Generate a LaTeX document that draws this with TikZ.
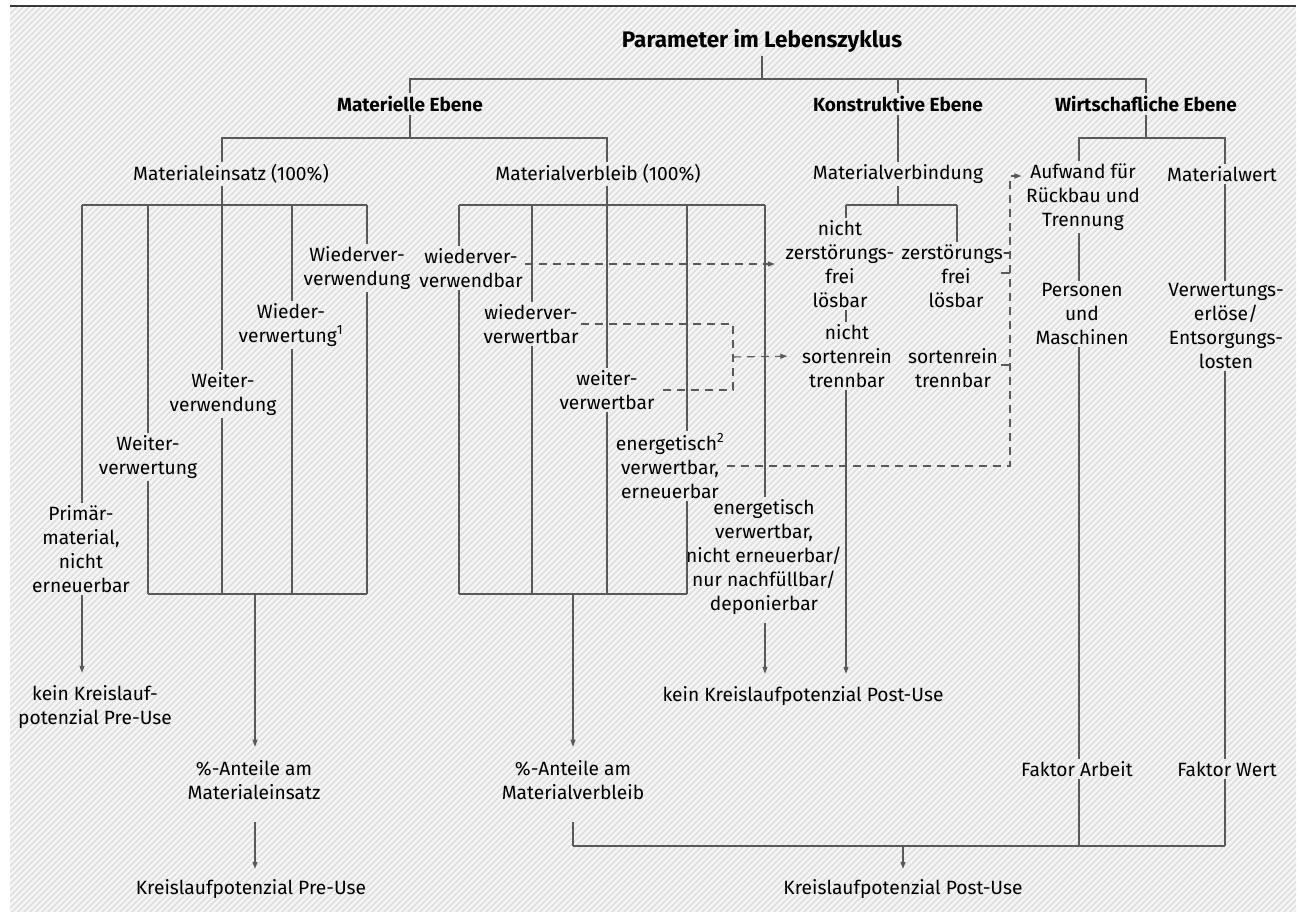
\documentclass[tikz,border=0pt]{standalone}
\usepackage{fontspec}
\setmainfont{Fira Sans}
\usetikzlibrary{arrows.meta}
\begin{document}
\begin{tikzpicture}[x=1pt,y=-1pt,
  lbl/.style={align=center, inner sep=2.5pt, text=black, font=\fontsize{19.2}{24}\selectfont},
  hd/.style={inner sep=3pt, text=black, font=\fontsize{19}{24}\selectfont\bfseries},
  ttl/.style={inner sep=3pt, text=black, font=\fontsize{22.5}{27}\selectfont\bfseries},
  ln/.style={draw=black!65, line width=1.1pt},
  arr/.style={ln, -{Triangle[length=7pt,width=5pt]}},
  dsh/.style={ln, dash pattern=on 8pt off 6pt},
  hatch/.style={draw=black!13, line width=1.5pt},
]
\useasboundingbox (0,0) rectangle (1301,912);
\fill[white] (0,0) rectangle (1301,912);
\begin{scope}
\clip (10,8) rectangle (1296,912);
\fill[black!3] (10,8) rectangle (1296,912);
\foreach \c in {0,6,...,2230} { \draw[hatch] (\c,0) -- ({\c-920},920); }
\end{scope}
\draw[black!78, line width=2pt] (10,6) -- (1296,6);

% ---------- nodes ----------
\node[ttl] (title) at (762,41) {Parameter im Lebenszyklus};
\node[hd] (mat) at (410,104) {Materielle Ebene};
\node[hd] (kon) at (898,104) {Konstruktive Ebene};
\node[hd] (wir) at (1146,104) {Wirtschafliche Ebene};

\node[lbl] (meins) at (231,174) {Materialeinsatz (100\%)};
\node[lbl] (mverb) at (598,174) {Materialverbleib (100\%)};
\node[lbl] (mverbd) at (898,174) {Materialverbindung};
\node[lbl] (aufw) at (1083,197) {Aufwand für\\Rückbau und\\Trennung};
\node[lbl] (mwert) at (1222,174) {Materialwert};
\node[lbl] (pers) at (1082,314) {Personen\\und\\Maschinen};
\node[lbl] (verw) at (1226,326) {Verwertungs-\\erlöse/\\Entsorgungs-\\losten};
\node[lbl] (fa) at (1077,769) {Faktor Arbeit};
\node[lbl] (fw) at (1227,769) {Faktor Wert};
\node[lbl] (kpost) at (903,889) {Kreislaufpotenzial Post-Use};

\node[lbl] (wvw) at (357,268) {Wiederver-\\verwendung};
\node[lbl] (wvt) at (291,325) {Wieder-\\verwertung\textsuperscript{1}};
\node[lbl] (wew) at (223,394) {Weiter-\\verwendung};
\node[lbl] (wet) at (148,457) {Weiter-\\verwertung};
\node[lbl] (prim) at (81,549) {Primär-\\material,\\nicht\\erneuerbar};
\node[lbl] (kpre0) at (95,707) {kein Kreislauf-\\potenzial Pre-Use};
\node[lbl] (pme) at (254,780) {\%-Anteile am\\Materialeinsatz};
\node[lbl] (kpre) at (251,889) {Kreislaufpotenzial Pre-Use};

\node[lbl] (wvb) at (471,268) {wiederver-\\verwendbar};
\node[lbl] (wvtb) at (531,324) {wiederver-\\verwertbar};
\node[lbl] (wetb) at (607,390) {weiter-\\verwertbar};
\node[lbl] (en2) at (670,466) {energetisch\textsuperscript{2}\\verwertbar,\\erneuerbar};
\node[lbl] (en) at (764,557) {energetisch\\verwertbar,\\nicht erneuerbar/\\nur nachfüllbar/\\deponierbar};
\node[lbl] (pmv) at (573,780) {\%-Anteile am\\Materialverbleib};
\node[lbl] (kpost0) at (803,696) {kein Kreislaufpotenzial Post-Use};

\node[lbl] (nzl) at (840,264) {nicht\\zerstörungs-\\frei\\lösbar};
\node[lbl] (zl) at (956,276) {zerstörungs-\\frei\\lösbar};
\node[lbl] (nst) at (847,356) {nicht\\sortenrein\\trennbar};
\node[lbl] (st) at (953,368) {sortenrein\\trennbar};

% ---------- coordinates ----------
\coordinate (b0) at (762,79);
\coordinate (mbL) at (222,138); \coordinate (mbR) at (607,138);
\coordinate (wbL) at (1079,138); \coordinate (wbR) at (1225,138);
\coordinate (lt1) at (82,205); \coordinate (lt2) at (148,205); \coordinate (lt3) at (222,205);
\coordinate (lt4) at (292,205); \coordinate (lt5) at (367,205);
\coordinate (lb2) at (148,594); \coordinate (lb3) at (222,594); \coordinate (lb4) at (292,594);
\coordinate (lb5) at (367,594); \coordinate (lbm) at (255,594);
\coordinate (mt1) at (459,205); \coordinate (mt2) at (532,205); \coordinate (mt3) at (607,205);
\coordinate (mt4) at (687,205); \coordinate (mt5) at (765,205);
\coordinate (mb1) at (459,594); \coordinate (mb2) at (532,594); \coordinate (mb3) at (607,594);
\coordinate (mb4) at (687,594); \coordinate (mbm) at (573,594);
\coordinate (kt1) at (846,205); \coordinate (ktm) at (898,205); \coordinate (kt2) at (957,205);
\coordinate (bb1) at (573,846); \coordinate (bbm) at (903,846);
\coordinate (bb3) at (1079,846); \coordinate (bb4) at (1225,846);
\coordinate (dj) at (733,357); \coordinate (atop) at (1010,176);

% ---------- top tree ----------
\draw[ln] (title.south) -- (b0);
\draw[ln] (mat.north) -- (mat.north |- b0) -- (wir.north |- b0) -- (wir.north);
\draw[ln] (kon.north) -- (kon.north |- b0);
\draw[ln] (mat.south) -- (mat.south |- mbL);
\draw[ln] (meins.north -| mbL) -- (mbL) -- (mbR) -- (mverb.north -| mbR);
\draw[ln] (kon.south) -- (mverbd.north);
\draw[ln] (wir.south) -- (wir.south |- wbL);
\draw[ln] (aufw.north -| wbL) -- (wbL) -- (wbR) -- (mwert.north -| wbR);

% ---------- Materialeinsatz ----------
\draw[ln] (meins.south -| lt3) -- (lt3);
\draw[ln] (lt1) -- (lt5);
\draw[ln] (lb2) -- (lb5);
\draw[ln] (lt5) -- (wvw.north -| lt5);
\draw[ln] (wvw.south -| lt5) -- (lb5);
\draw[ln] (lt4) -- (wvt.north -| lt4);
\draw[ln] (wvt.south -| lt4) -- (lb4);
\draw[ln] (lt3) -- (wew.north -| lt3);
\draw[ln] (wew.south -| lt3) -- (lb3);
\draw[ln] (lt2) -- (wet.north -| lt2);
\draw[ln] (wet.south -| lt2) -- (lb2);
\draw[ln] (lt1) -- (prim.north -| lt1);
\draw[arr, shorten >=10pt] (prim.south -| lt1) -- (kpre0.north -| lt1);
\draw[arr, shorten >=11pt] (lbm) -- (pme.north -| lbm);
\draw[arr, shorten <=20pt, shorten >=8pt] (pme.south -| lbm) -- (kpre.north -| lbm);

% ---------- Materialverbleib ----------
\draw[ln] (mverb.south -| mt3) -- (mt3);
\draw[ln] (mt1) -- (mt5);
\draw[ln] (mb1) -- (mb4);
\draw[ln] (mt1) -- (wvb.north -| mt1);
\draw[ln] (wvb.south -| mt1) -- (mb1);
\draw[ln] (mt2) -- (wvtb.north -| mt2);
\draw[ln] (wvtb.south -| mt2) -- (mb2);
\draw[ln] (mt3) -- (wetb.north -| mt3);
\draw[ln] (wetb.south -| mt3) -- (mb3);
\draw[ln] (mt4) -- (en2.north -| mt4);
\draw[ln] (en2.south -| mt4) -- (mb4);
\draw[ln] (mt5) -- (en.north -| mt5);
\draw[arr, shorten <=6pt, shorten >=10pt] (en.south -| mt5) -- (kpost0.north -| mt5);
\draw[arr, shorten >=11pt] (mbm) -- (pmv.north -| mbm);
\draw[ln, shorten <=20pt] (pmv.south -| mbm) -- (bb1);

% ---------- Materialverbindung ----------
\draw[ln] (mverbd.south) -- (ktm);
\draw[ln] (kt1) -- (kt2);
\draw[ln] (kt1) -- (nzl.north -| kt1);
\draw[ln] (kt2) -- (zl.north -| kt2);
\draw[ln] (nzl.south -| kt1) -- (nst.north -| kt1);
\draw[arr, shorten >=10pt] (nst.south -| kt1) -- (kpost0.north -| kt1);

% ---------- Wirtschaft ----------
\draw[ln] (aufw.south -| wbL) -- (pers.north -| wbL);
\draw[ln] (pers.south -| wbL) -- (fa.north -| wbL);
\draw[ln] (fa.south -| wbL) -- (bb3);
\draw[ln] (mwert.south -| wbR) -- (verw.north -| wbR);
\draw[ln] (verw.south -| wbR) -- (fw.north -| wbR);
\draw[ln] (fw.south -| wbR) -- (bb4);
\draw[ln] (bb1) -- (bb4);
\draw[arr, shorten >=8pt] (bbm) -- (kpost.north -| bbm);

% ---------- dashed links ----------
\draw[dsh, -{Triangle[length=7pt,width=5pt]}, shorten >=8pt] (wvb.east |- nzl.west) -- (nzl.west);
\draw[dsh] (wvtb.east) -- (wvtb.east -| dj) -- (wetb.east -| dj) -- (wetb.east);
\draw[dsh, -{Triangle[length=7pt,width=5pt]}, shorten >=12pt] (dj) -- (nst.west);
\draw[dsh, -{Triangle[length=7pt,width=5pt]}, shorten >=2pt] (en2.east) -- (en2.east -| atop) -- (atop) -- (aufw.west |- atop);
\draw[ln] ([xshift=-12pt,yshift=3pt]zl.east) -- ([yshift=3pt]zl.east -| atop);
\draw[ln] ([yshift=3pt]st.east) -- ([yshift=3pt]st.east -| atop);
\end{tikzpicture}
\end{document}
